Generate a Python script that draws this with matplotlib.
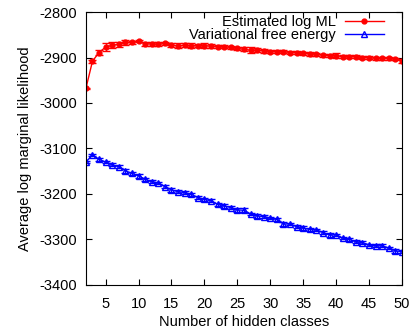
import matplotlib
matplotlib.use("Agg")
import matplotlib.pyplot as plt
from matplotlib.lines import Line2D
import numpy as np

plt.rcParams["font.family"] = ["Liberation Sans", "DejaVu Sans"]
plt.rcParams["axes.unicode_minus"] = False

classes = np.arange(2, 51)

est_log_ml = [
    -2968, -2908, -2889, -2877, -2873, -2871, -2867, -2867, -2864, -2870,
    -2870, -2871, -2869, -2873, -2874, -2873, -2874, -2874, -2874, -2875,
    -2876, -2876, -2878, -2880, -2882, -2884, -2884, -2885, -2887, -2887,
    -2887, -2889, -2889, -2891, -2892, -2893, -2895, -2896, -2896, -2898,
    -2898, -2898, -2900, -2900, -2902, -2902, -2902, -2903, -2908,
]
est_err = [
    2, 3, 6, 8, 6, 5, 5, 4, 3, 5,
    4, 4, 4, 5, 6, 4, 5, 4, 5, 4,
    4, 4, 4, 3, 4, 6, 4, 4, 4, 3,
    3, 3, 3, 3, 4, 3, 3, 3, 5, 3,
    3, 3, 4, 3, 3, 3, 3, 3, 4,
]

free_energy = [
    -3130, -3114, -3124, -3130, -3136, -3140, -3149, -3155, -3160, -3168,
    -3173, -3176, -3184, -3191, -3195, -3197, -3201, -3208, -3212, -3215,
    -3223, -3226, -3230, -3235, -3236, -3244, -3248, -3250, -3253, -3256,
    -3266, -3266, -3272, -3275, -3278, -3279, -3285, -3290, -3290, -3297,
    -3300, -3305, -3307, -3312, -3314, -3314, -3319, -3325, -3327,
]
fe_err = [
    2, 2, 3, 3, 3, 3, 4, 4, 4, 4,
    4, 3, 4, 4, 3, 3, 3, 4, 3, 3,
    3, 4, 3, 4, 4, 3, 4, 3, 3, 3,
    4, 3, 3, 4, 3, 3, 4, 4, 3, 3,
    3, 3, 3, 3, 3, 3, 3, 4, 3,
]

red, blue = "#ff0000", "#0000ff"
fs = 10.5

fig = plt.figure(figsize=(4.11, 3.34), dpi=100)
ax = fig.add_axes([0.209, 0.147, 0.769, 0.817])

ax.errorbar(classes, est_log_ml, yerr=est_err, color=red, lw=1,
            marker="o", ms=3.5, capsize=3, elinewidth=0.8)
ax.errorbar(classes, free_energy, yerr=fe_err, color=blue, lw=1,
            marker="^", ms=4.5, mfc="none", mew=1, capsize=3, elinewidth=0.8)

ax.set_xlim(2, 50)
ax.set_ylim(-3400, -2800)
ax.set_xticks(np.arange(5, 51, 5))
ax.set_yticks(np.arange(-3400, -2799, 100))
ax.tick_params(direction="in", top=True, right=True, labelsize=fs, length=4)
ax.tick_params(axis="y", pad=6.5)
ax.tick_params(axis="x", pad=8.5)
ax.set_xlabel("Number of hidden classes", fontsize=fs, labelpad=3)
ax.set_ylabel("Average log marginal likelihood", fontsize=fs, labelpad=5)

handles = [
    Line2D([], [], color=red, lw=1, marker="o", ms=3.5),
    Line2D([], [], color=blue, lw=1, marker="^", ms=4.5, mfc="none"),
]
ax.legend(handles, ["Estimated log ML", "Variational free energy"],
          loc="upper right", bbox_to_anchor=(0.953, 1.0), frameon=False,
          markerfirst=False, fontsize=fs, handlelength=2.7,
          handletextpad=0.6, borderpad=0.2, borderaxespad=0,
          labelspacing=-0.05)

fig.savefig("out.png", dpi=100)
